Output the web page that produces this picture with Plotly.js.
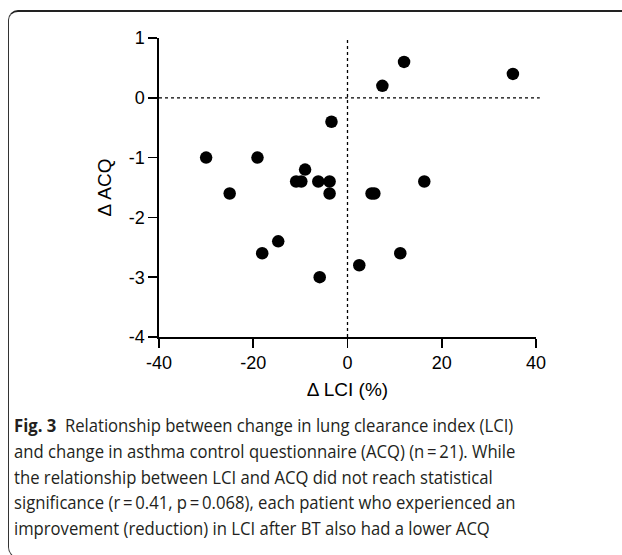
<!DOCTYPE html>
<html>
<head>
<meta charset="utf-8">
<script src="https://cdn.plot.ly/plotly-3.0.1.min.js"></script>
<style>
  html, body { margin: 0; padding: 0; background: #fff; }
  #wrap { position: relative; width: 622px; height: 555px; overflow: hidden; }
  #chart { position: absolute; left: 0; top: 0; width: 622px; height: 555px; }
  #frame { position: absolute; left: 8px; top: 10px; width: 640px; height: 546px;
           border-left: 1.3px solid #333; border-top: 2px solid #222; border-bottom: 1px solid #444;
           border-radius: 10px 0 0 12px; pointer-events: none; }
  #caption { position: absolute; left: 14px; top: 412px; width: 660px;
             font-family: "Open Sans", "Noto Sans", sans-serif; font-size: 18.5px; line-height: 25.8px;
             color: #231f20; transform: scaleX(0.9); transform-origin: left top; white-space: nowrap; }
  #caption b { font-weight: 700; }
</style>
</head>
<body>
<div id="wrap">
  <div id="chart"></div>
  <div id="frame"></div>
  <div id="caption">
    <b>Fig. 3</b>&nbsp; Relationship between change in lung clearance index (LCI)<br>
    and change in asthma control questionnaire (ACQ) (n&#8201;=&#8201;21). While<br>
    the relationship between LCI and ACQ did not reach statistical<br>
    significance (r&#8201;=&#8201;0.41, p&#8201;=&#8201;0.068), each patient who experienced an<br>
    improvement (reduction) in LCI after BT also had a lower ACQ
  </div>
</div>
<script>
// Change in LCI (%) per patient
const deltaLCI = [-30, -25, -19.1, -10.9, -9.8, -9.0, -6.2, -3.8, -3.8, -3.4,
                  5.1, 5.7, 7.4, 12.0, 16.3, 35.1, -18.1, -14.7, -5.9, 2.5, 11.2];
// Change in ACQ per patient
const deltaACQ = [-1.0, -1.6, -1.0, -1.4, -1.4, -1.2, -1.4, -1.4, -1.6, -0.4,
                  -1.6, -1.6, 0.2, 0.6, -1.4, 0.4, -2.6, -2.4, -3.0, -2.8, -2.6];
const xTicks = [-40, -20, 0, 20, 40];
const yTicks = [-4, -3, -2, -1, 0, 1];

const trace = {
  x: deltaLCI, y: deltaACQ, type: 'scatter', mode: 'markers',
  marker: { color: '#000', size: 12.5 }, cliponaxis: false, hoverinfo: 'skip'
};

const FAM = '"Liberation Sans", Arimo, Arial, sans-serif';
const axisFont = { family: FAM, size: 18, color: '#000' };

const layout = {
  width: 622, height: 555,
  margin: { l: 159, r: 86, t: 38, b: 218 },
  paper_bgcolor: 'rgba(0,0,0,0)', plot_bgcolor: 'rgba(0,0,0,0)',
  showlegend: false,
  font: axisFont,
  xaxis: {
    range: [-40, 40], tickvals: xTicks, ticktext: xTicks.map(String),
    showgrid: false, zeroline: false, showline: true, linecolor: '#000', linewidth: 1.6,
    ticks: 'outside', ticklen: 9, tickwidth: 1.6, tickcolor: '#000',
    tickfont: axisFont,
    title: { text: '\u0394 LCI (%)', font: { family: FAM, size: 19, color: '#000' }, standoff: 10 }
  },
  yaxis: {
    range: [-4, 1], tickvals: yTicks, ticktext: yTicks.map(String),
    showgrid: false, zeroline: false, showline: true, linecolor: '#000', linewidth: 1.6,
    ticks: 'outside', ticklen: 9, tickwidth: 1.6, tickcolor: '#000',
    tickfont: axisFont,
    title: { text: '\u0394 ACQ', font: { family: FAM, size: 19, color: '#000' }, standoff: 12 }
  },
  shapes: [
    { type: 'line', xref: 'x', yref: 'paper', x0: 0, x1: 0, y0: 0, y1: 1,
      line: { color: '#000', width: 1.3, dash: 'dot' }, layer: 'below' },
    { type: 'line', xref: 'paper', yref: 'y', x0: 0, x1: 1.01, y0: 0, y1: 0,
      line: { color: '#000', width: 1.3, dash: 'dot' }, layer: 'below' }
  ]
};

Plotly.newPlot('chart', [trace], layout, { staticPlot: true, displayModeBar: false });
</script>
</body>
</html>
